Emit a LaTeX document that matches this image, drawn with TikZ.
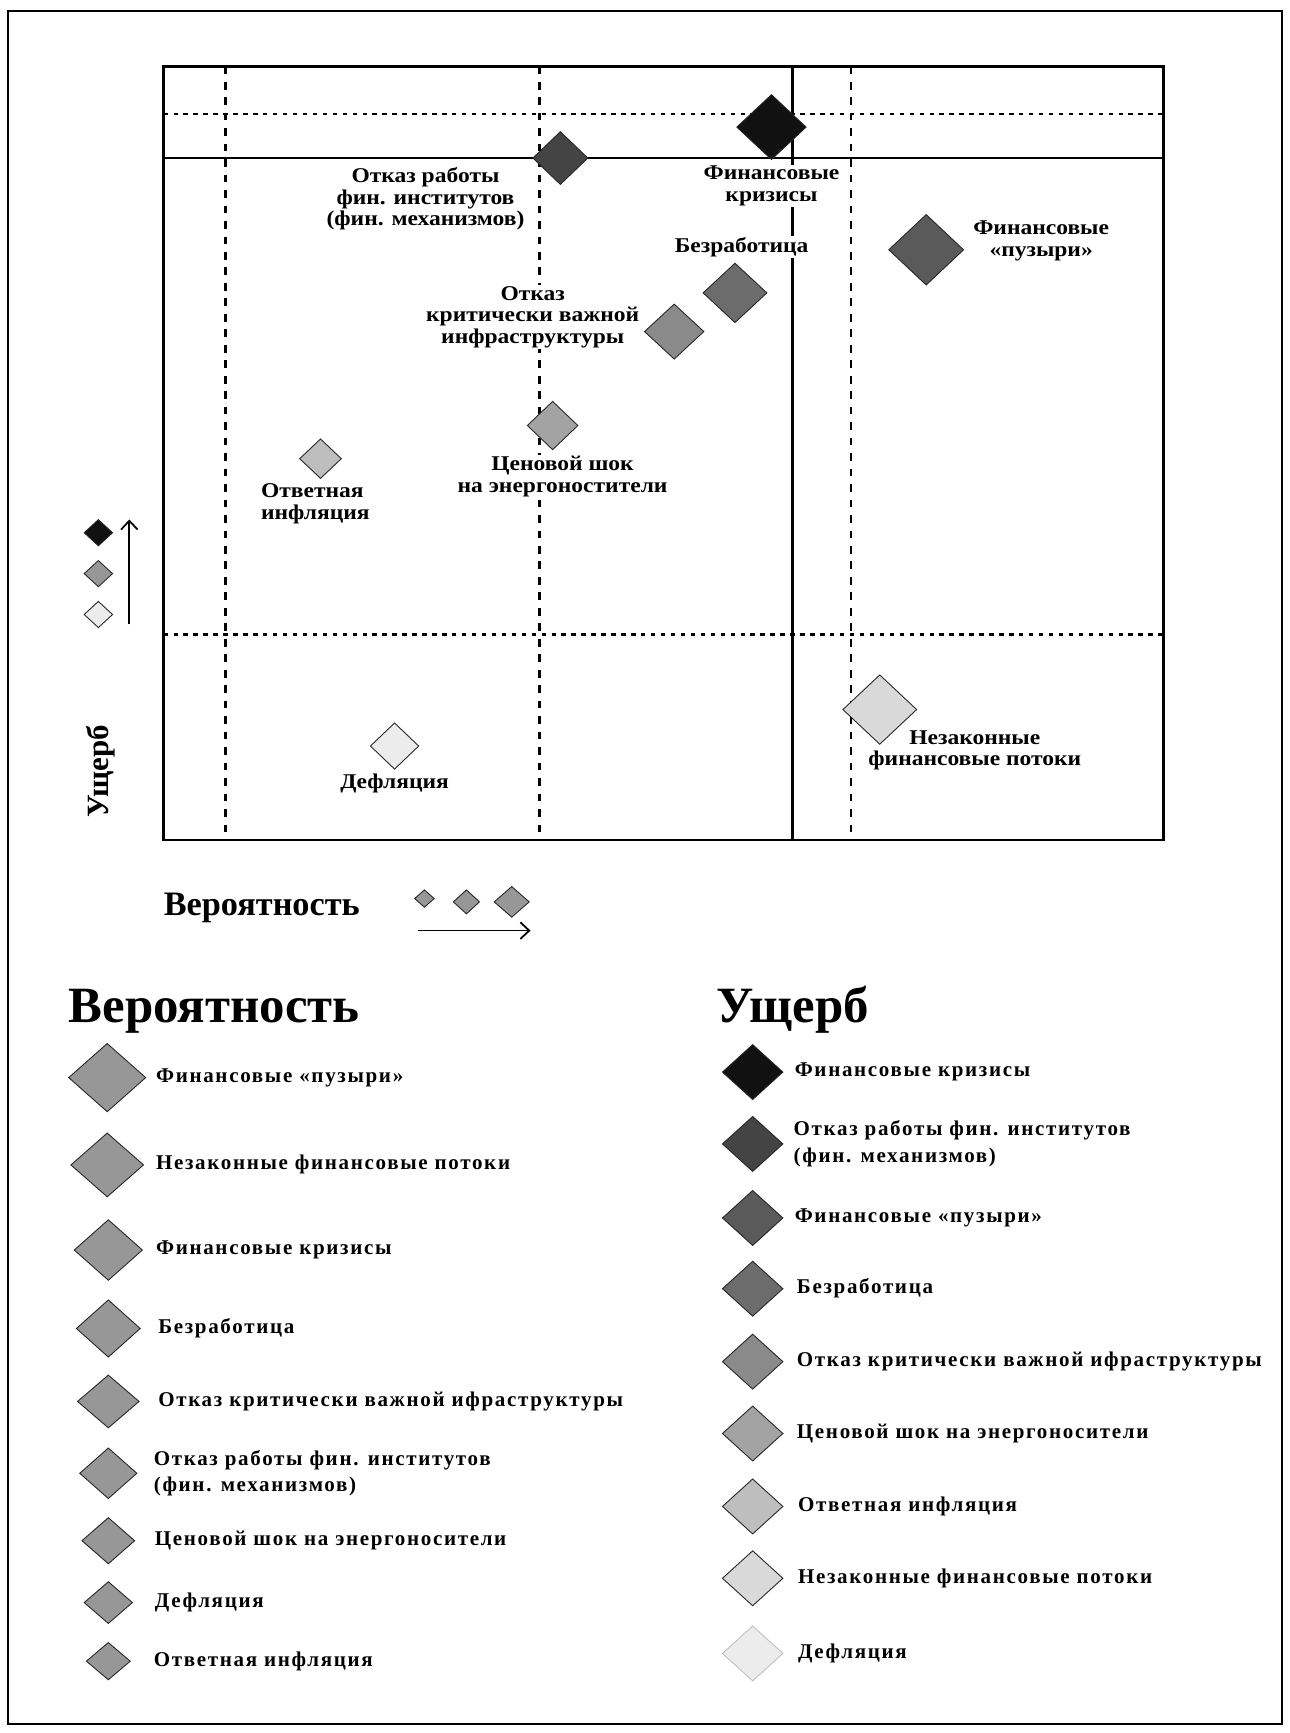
\documentclass[tikz,border=0pt]{standalone}
\usepackage{fontspec}
\setmainfont{Liberation Serif}
\newfontfamily\legfont[LetterSpace=8]{Liberation Serif}
\newfontfamily\lblfont[FakeStretch=1.12]{Liberation Serif}
\usepackage{xcolor}
\usetikzlibrary{shapes.geometric,positioning,arrows.meta}

\definecolor{dmgA}{HTML}{111111}
\definecolor{dmgB}{HTML}{444444}
\definecolor{dmgC}{HTML}{5A5A5A}
\definecolor{dmgD}{HTML}{6C6C6C}
\definecolor{dmgE}{HTML}{8A8A8A}
\definecolor{dmgF}{HTML}{A3A3A3}
\definecolor{dmgG}{HTML}{BEBEBE}
\definecolor{dmgH}{HTML}{D9D9D9}
\definecolor{dmgI}{HTML}{ECECEC}
\definecolor{probgray}{HTML}{979797}

\begin{document}
\begin{tikzpicture}[
            x=1pt, y=-1pt,
            risk/.style={diamond,draw=black!85,line width=0.8pt,inner sep=0pt},
            dsize/.style 2 args={minimum width=#1pt,minimum height=#2pt},
            lbl/.style={font=\lblfont\bfseries\fontsize{19}{19.5}\selectfont,align=center,fill=white,inner sep=1pt},
            leg/.style={font=\legfont\bfseries\fontsize{19}{24}\selectfont,align=left,anchor=west,inner sep=0pt},
            ttl/.style={font=\fontsize{46}{50}\selectfont\bfseries,anchor=base west,inner sep=0pt},
            grid solid/.style={line width=2pt},
            grid dash/.style={line width=2.2pt,dash pattern=on 7pt off 7pt},
            grid dot/.style={line width=2.2pt,dash pattern=on 4pt off 5pt},
            axis arrow/.style={line width=1.6pt,-{Straight Barb[length=8pt,width=15pt]}}
        ]
        \useasboundingbox (0,0) rectangle (1167,1568);
        \draw[line width=2pt] (7,10) rectangle (1160,1560);

        % matrix grid
        \draw[grid dash] (204,60) -- (204,760);
        \draw[grid dash] (488,60) -- (488,760);
        \draw[grid dash] (770,60) -- (770,760);
        \draw[grid dot] (148,103) -- (1053,103);
        \draw[grid dot] (148,574) -- (1053,574);
        \draw[grid solid] (148,143) -- (1053,143);
        \draw[grid solid] (717,60) -- (717,760);
        \draw[line width=2.6pt] (148,60) rectangle (1053,760);

        % risks
        \node[risk, dsize={50}{48}, fill=dmgB] (fininst) at (507,143) {};
        \node[risk, dsize={63}{59}, fill=dmgA] (krizis) at (698,115) {};
        \node[risk, dsize={68}{64}, fill=dmgC] (puzyri) at (838,226) {};
        \node[risk, dsize={58}{54}, fill=dmgD] (bezrab) at (665,265) {};
        \node[risk, dsize={54}{50}, fill=dmgE] (infra) at (610,300) {};
        \node[risk, dsize={46}{44}, fill=dmgF] (energo) at (500,385) {};
        \node[risk, dsize={38}{36}, fill=dmgG] (inflyac) at (290,415) {};
        \node[risk, dsize={44}{42}, fill=dmgI] (deflyac) at (357,675) {};
        \node[risk, dsize={67}{63}, fill=dmgH] (potoki) at (796,642) {};

        \node[lbl] (fininst-t) at (385,180) {Отказ работы\\фин. институтов\\(фин. механизмов)};
        \node[lbl, below=4pt of krizis] (krizis-t) {Финансовые\\кризисы};
        \node[lbl, right=7pt of puzyri, yshift=8pt] (puzyri-t) {Финансовые\\«пузыри»};
        \node[lbl, above=4pt of bezrab, xshift=6pt] (bezrab-t) {Безработица};
        \node[lbl] (infra-t) at (482,287) {Отказ\\критически важной\\инфраструктуры};
        \node[lbl, below=4pt of energo, xshift=9pt] (energo-t) {Ценовой шок\\на энергоностители};
        \node[lbl, align=left, anchor=west] (inflyac-t) at (235,456) {Ответная\\инфляция};
        \node[lbl, below=3pt of deflyac] (deflyac-t) {Дефляция};
        \node[lbl, fill=none] (potoki-t) at (882,679) {Незаконные\\финансовые потоки};

        % axes
        \node[risk, dsize={26}{24}, fill=dmgA] (ush-hi) at (89,482) {};
        \node[risk, dsize={26}{24}, fill=probgray] (ush-mid) at (89,519) {};
        \node[risk, dsize={26}{24}, fill=dmgI] (ush-lo) at (89,556) {};
        \coordinate (ush-from) at (117,565);
        \coordinate (ush-to) at (117,470);
        \draw[axis arrow] (ush-from) -- (ush-to);
        \node[font=\fontsize{28}{30}\selectfont\bfseries, rotate=90, inner sep=0pt] (ush-ax) at (91,698) {Ущерб};

        \node[font=\fontsize{31}{33}\selectfont\bfseries, anchor=base west, inner sep=0pt] (ver-ax) at (148,828) {Вероятность};
        \node[risk, dsize={18}{16}, fill=probgray] (ver-s) at (384,813) {};
        \node[risk, dsize={24}{22}, fill=probgray] (ver-m) at (422,816) {};
        \node[risk, dsize={32}{28}, fill=probgray] (ver-l) at (463,816) {};
        \coordinate (ver-from) at (378,842);
        \coordinate (ver-to) at (480,842);
        \draw[axis arrow] (ver-from) -- (ver-to);

        % legend: probability
        \node[ttl] (ver-head) at (62,925) {Вероятность};
        \node[risk, dsize={70}{62}, fill=probgray] (ver-1) at (97,975) {};
        \node[risk, dsize={66}{58}, fill=probgray] (ver-2) at (97,1054) {};
        \node[risk, dsize={62}{55}, fill=probgray] (ver-3) at (98,1131) {};
        \node[risk, dsize={58}{52}, fill=probgray] (ver-4) at (98,1202) {};
        \node[risk, dsize={56}{48}, fill=probgray] (ver-5) at (98,1268) {};
        \node[risk, dsize={52}{46}, fill=probgray] (ver-6) at (98,1333) {};
        \node[risk, dsize={48}{42}, fill=probgray] (ver-7) at (98,1394) {};
        \node[risk, dsize={44}{38}, fill=probgray] (ver-8) at (98,1450) {};
        \node[risk, dsize={40}{34}, fill=probgray] (ver-9) at (98,1503) {};
        \node[leg] (ver-1-t) at (141,975) {Финансовые «пузыри»};
        \node[leg] (ver-2-t) at (141,1054) {Незаконные финансовые потоки};
        \node[leg] (ver-3-t) at (141,1131) {Финансовые кризисы};
        \node[leg] (ver-4-t) at (143,1202) {Безработица};
        \node[leg] (ver-5-t) at (143,1268) {Отказ критически важной ифраструктуры};
        \node[leg] (ver-6-t) at (139,1333) {Отказ работы фин. институтов\\(фин. механизмов)};
        \node[leg] (ver-7-t) at (140,1394) {Ценовой шок на энергоносители};
        \node[leg] (ver-8-t) at (140,1450) {Дефляция};
        \node[leg] (ver-9-t) at (139,1503) {Ответная инфляция};

        % legend: damage
        \node[ttl] (ush-head) at (648,925) {Ущерб};
        \node[risk, dsize={55}{50}, fill=dmgA] (ush-1) at (681,970) {};
        \node[risk, dsize={55}{50}, fill=dmgB] (ush-2) at (681,1035) {};
        \node[risk, dsize={55}{50}, fill=dmgC] (ush-3) at (681,1102) {};
        \node[risk, dsize={55}{50}, fill=dmgD] (ush-4) at (681,1166) {};
        \node[risk, dsize={55}{50}, fill=dmgE] (ush-5) at (681,1232) {};
        \node[risk, dsize={55}{50}, fill=dmgF] (ush-6) at (681,1297) {};
        \node[risk, dsize={55}{50}, fill=dmgG] (ush-7) at (681,1363) {};
        \node[risk, dsize={55}{50}, fill=dmgH] (ush-8) at (681,1428) {};
        \node[risk, dsize={55}{50}, fill=dmgI, draw=black!25] (ush-9) at (681,1496) {};
        \node[leg, right=10pt of ush-1] (ush-1-t) {Финансовые кризисы};
        \node[leg, right=9pt of ush-2] (ush-2-t) {Отказ работы фин. институтов\\(фин. механизмов)};
        \node[leg, right=10pt of ush-3] (ush-3-t) {Финансовые «пузыри»};
        \node[leg, right=12pt of ush-4] (ush-4-t) {Безработица};
        \node[leg, right=12pt of ush-5] (ush-5-t) {Отказ критически важной ифраструктуры};
        \node[leg, right=12pt of ush-6] (ush-6-t) {Ценовой шок на энергоносители};
        \node[leg, right=13pt of ush-7] (ush-7-t) {Ответная инфляция};
        \node[leg, right=13pt of ush-8] (ush-8-t) {Незаконные финансовые потоки};
        \node[leg, right=13pt of ush-9] (ush-9-t) {Дефляция};
    \end{tikzpicture}
\end{document}
